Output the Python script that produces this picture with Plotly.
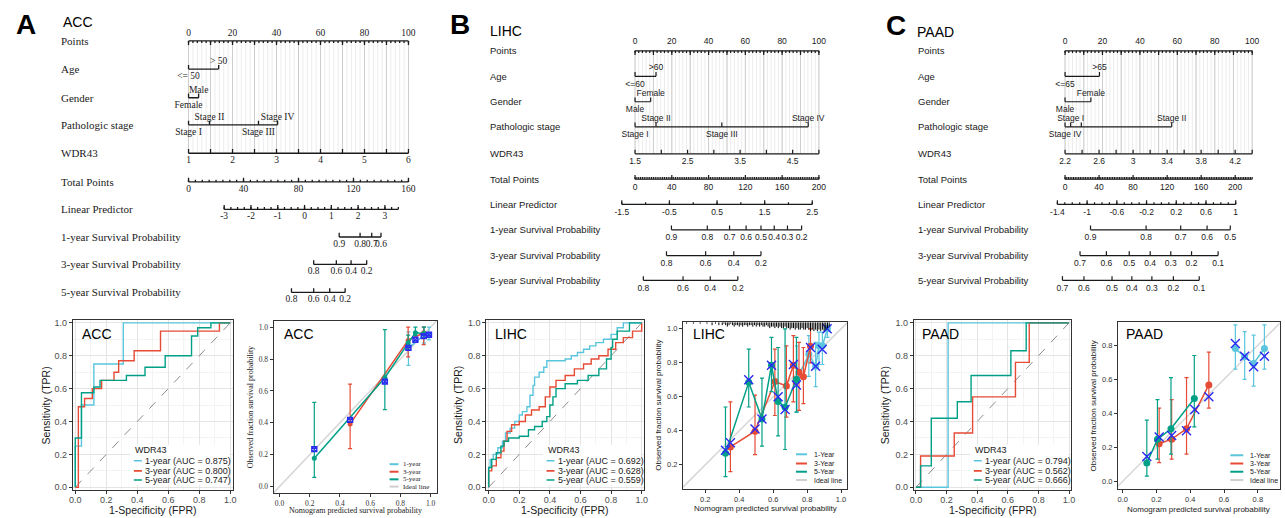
import plotly.graph_objects as go

W, H = 1285, 518
NOMO_H = 310
SERIF = "Liberation Serif, Times New Roman, serif"
SANS = "Liberation Sans, Arial, Helvetica, sans-serif"
C1, C3, C5 = "#5BC5DE", "#E64B35", "#00A087"
XBLUE = "#2A2AF2"
INK = "#1a1a1a"

# ------------------------------------------------------------------ data
row_names = ["Points", "Age", "Gender", "Pathologic stage", "WDR43", "Total Points",
             "Linear Predictor", "1-year Survival Probability",
             "3-year Survival Probability", "5-year Survival Probability"]
points_labels = [0, 20, 40, 60, 80, 100]

# ACC nomogram (scores on the 0-100 Points scale)
acc_age_lv = ["<= 50", "> 50"];   acc_age_pt = [0, 13.7]
acc_sex_lv = ["Female", "Male"];  acc_sex_pt = [0, 4.6]
acc_stage_lv = ["Stage I", "Stage II", "Stage III", "Stage IV"]; acc_stage_pt = [0, 9.5, 31.8, 40.5]
acc_stage_show = [True, True, True, True]
acc_wdr_range = [1, 6]; acc_wdr_step = 0.5; acc_wdr_lab = [1, 2, 3, 4, 5, 6]
acc_tot_max = 160; acc_tot_step = 5; acc_tot_lab = [0, 40, 80, 120, 160]
acc_lp_lab = [-3, -2, -1, 0, 1, 2, 3]; acc_lp_step = 0.25; acc_lp_end = 3.5; acc_lp_pt = [16.2, 89.3]
acc_s1_lab = [0.9, 0.8, 0.7, 0.6]; acc_s1_pt = [68.5, 78.0, 83.3, 87.5]
acc_s3_lab = [0.8, 0.6, 0.4, 0.2]; acc_s3_pt = [56.9, 67.2, 73.9, 81.0]
acc_s5_lab = [0.8, 0.6, 0.4, 0.2]; acc_s5_pt = [46.8, 56.9, 64.2, 71.2]

# LIHC nomogram
lihc_age_lv = ["<=60", ">60"];     lihc_age_pt = [0, 11.4]
lihc_sex_lv = ["Male", "Female"];  lihc_sex_pt = [0, 8.5]
lihc_stage_lv = ["Stage I", "Stage II", "Stage III", "Stage IV"]; lihc_stage_pt = [0, 11.4, 47.2, 94.2]
lihc_stage_show = [True, True, True, True]
lihc_wdr_range = [1.5, 5.0]; lihc_wdr_step = 0.5; lihc_wdr_lab = [1.5, 2.5, 3.5, 4.5]
lihc_tot_max = 200; lihc_tot_step = 2; lihc_tot_lab = [0, 40, 80, 120, 160, 200]
lihc_lp_lab = [-1.5, -0.5, 0.5, 1.5, 2.5]; lihc_lp_step = 0.5; lihc_lp_end = 2.5; lihc_lp_pt = [-7.2, 96.4]
lihc_s1_lab = [0.9, 0.8, 0.7, 0.6, 0.5, 0.4, 0.3, 0.2]; lihc_s1_pt = [19.8, 39.3, 51.4, 60.4, 68.5, 75.7, 82.9, 90.6]
lihc_s3_lab = [0.8, 0.6, 0.4, 0.2]; lihc_s3_pt = [17.1, 38.4, 53.7, 68.5]
lihc_s5_lab = [0.8, 0.6, 0.4, 0.2]; lihc_s5_pt = [4.5, 26.1, 40.9, 55.9]

# PAAD nomogram
paad_age_lv = ["<=65", ">65"];     paad_age_pt = [0, 18.4]
paad_sex_lv = ["Male", "Female"];  paad_sex_pt = [0, 13.8]
paad_stage_lv = ["Stage IV", "Stage I", "Stage III", "Stage II"]; paad_stage_pt = [0, 3.0, 8.7, 57.0]
paad_stage_show = [True, True, False, True]
paad_wdr_range = [2.2, 4.4]; paad_wdr_step = 0.2; paad_wdr_lab = [2.2, 2.6, 3, 3.4, 3.8, 4.2]
paad_tot_max = 220; paad_tot_step = 2; paad_tot_lab = [0, 40, 80, 120, 160, 200]
paad_lp_lab = [-1.4, -1, -0.6, -0.2, 0.2, 0.6, 1]; paad_lp_step = 0.1; paad_lp_end = 1.0; paad_lp_pt = [-4.1, 91.2]
paad_s1_lab = [0.9, 0.8, 0.7, 0.6, 0.5]; paad_s1_pt = [13.6, 43.3, 61.8, 75.9, 88.3]
paad_s3_lab = [0.7, 0.6, 0.5, 0.4, 0.3, 0.2, 0.1]; paad_s3_pt = [8.0, 22.1, 34.3, 45.5, 56.5, 67.6, 81.8]
paad_s5_lab = [0.7, 0.6, 0.5, 0.4, 0.3, 0.2, 0.1]; paad_s5_pt = [-1.4, 10.1, 25.1, 35.7, 46.4, 57.9, 71.7]

# ROC curves (step vertices: FPR where the jump happens, TPR after it)
acc_roc1_fpr = [0, 0, 0.04, 0.12, 0.31, 1]
acc_roc1_tpr = [0, 0.25, 0.50, 0.75, 1.0, 1.0]
acc_roc3_fpr = [0, 0.02, 0.06, 0.11, 0.17, 0.25, 0.28, 0.38, 0.55, 0.93, 1]
acc_roc3_tpr = [0, 0.49, 0.54, 0.60, 0.65, 0.70, 0.77, 0.83, 0.95, 1.0, 1.0]
acc_roc5_fpr = [0, 0, 0.04, 0.12, 0.16, 0.33, 0.45, 0.58, 0.75, 0.79, 0.875, 1]
acc_roc5_tpr = [0, 0.30, 0.575, 0.61, 0.65, 0.68, 0.73, 0.80, 0.92, 0.97, 1.0, 1.0]
acc_auc = [0.875, 0.800, 0.747]

lihc_roc1_fpr = [0, 0, 0.01, 0.03, 0.06, 0.09, 0.11, 0.14, 0.17, 0.20, 0.22, 0.25, 0.27, 0.29, 0.30,
                 0.33, 0.36, 0.38, 0.50, 0.54, 0.58, 0.62, 0.66, 0.70, 0.75, 0.80, 0.84, 0.88, 1]
lihc_roc1_tpr = [0, 0.12, 0.17, 0.20, 0.24, 0.28, 0.33, 0.36, 0.40, 0.44, 0.46, 0.49, 0.56, 0.62, 0.67,
                 0.70, 0.73, 0.77, 0.78, 0.80, 0.82, 0.84, 0.86, 0.88, 0.90, 0.93, 0.97, 1.0, 1.0]
lihc_roc3_fpr = [0, 0, 0.02, 0.05, 0.08, 0.10, 0.12, 0.15, 0.20, 0.24, 0.28, 0.33, 0.37, 0.40, 0.44,
                 0.50, 0.56, 0.62, 0.67, 0.72, 0.78, 0.83, 0.88, 0.94, 1.0, 1.0]
lihc_roc3_tpr = [0, 0.10, 0.13, 0.18, 0.22, 0.28, 0.34, 0.38, 0.40, 0.44, 0.47, 0.49, 0.55, 0.61, 0.65,
                 0.68, 0.72, 0.75, 0.78, 0.80, 0.84, 0.88, 0.91, 0.95, 0.98, 1.0]
lihc_roc5_fpr = [0, 0, 0.02, 0.05, 0.08, 0.10, 0.13, 0.20, 0.26, 0.30, 0.35, 0.38, 0.40, 0.42, 0.44,
                 0.50, 0.58, 0.65, 0.72, 0.77, 0.80, 0.81, 0.84, 0.92, 1]
lihc_roc5_tpr = [0, 0.12, 0.17, 0.21, 0.25, 0.28, 0.30, 0.31, 0.35, 0.37, 0.40, 0.43, 0.50, 0.55, 0.60,
                 0.63, 0.65, 0.68, 0.72, 0.78, 0.85, 0.90, 0.95, 1.0, 1.0]
lihc_auc = [0.692, 0.628, 0.559]

paad_roc1_fpr = [0, 0.21, 1]
paad_roc1_tpr = [0, 1.0, 1.0]
paad_roc3_fpr = [0, 0.03, 0.25, 0.37, 0.65, 0.74, 1]
paad_roc3_tpr = [0, 0.19, 0.33, 0.55, 0.76, 1.0, 1.0]
paad_roc5_fpr = [0, 0.03, 0.10, 0.27, 0.36, 0.62, 0.72, 1]
paad_roc5_tpr = [0, 0.13, 0.42, 0.52, 0.68, 0.83, 1.0, 1.0]
paad_auc = [0.794, 0.562, 0.666]

# Calibration: predicted, observed, lower, upper
acc_cal1 = dict(x=[0.853, 0.956, 0.989], y=[0.87, 0.948, 0.952], lo=[0.76, 0.90, 0.92], hi=[0.97, 1.0, 1.0])
acc_cal3 = dict(x=[0.467, 0.851, 0.954], y=[0.393, 0.917, 0.965], lo=[0.238, 0.814, 0.89], hi=[0.642, 1.0, 1.0])
acc_cal5 = dict(x=[0.23, 0.697, 0.851, 0.899, 0.956], y=[0.178, 0.683, 0.90, 0.965, 0.96],
                lo=[0.058, 0.482, 0.86, 0.948, 0.93], hi=[0.528, 0.985, 0.95, 1.0, 1.0])
acc_calx_x = [0.23, 0.467, 0.697, 0.853, 0.899, 0.954, 0.989]
acc_calx_y = [0.235, 0.418, 0.658, 0.87, 0.921, 0.944, 0.952]

lihc_cal1 = dict(x=[0.74, 0.81, 0.85, 0.87, 0.89, 0.92], y=[0.70, 0.85, 0.78, 0.90, 0.90, 1.0],
                 lo=[0.51, 0.72, 0.66, 0.79, 0.79, 0.95], hi=[0.90, 0.96, 0.92, 0.98, 0.98, 1.02])
lihc_cal3 = dict(x=[0.348, 0.493, 0.61, 0.678, 0.719, 0.752, 0.778, 0.82],
                 y=[0.305, 0.398, 0.69, 0.664, 0.786, 0.744, 0.718, 0.897],
                 lo=[0.16, 0.26, 0.49, 0.48, 0.57, 0.52, 0.56, 0.80],
                 hi=[0.57, 0.61, 0.88, 0.90, 0.96, 0.92, 0.89, 1.0])
lihc_cal5 = dict(x=[0.319, 0.456, 0.534, 0.59, 0.629, 0.67, 0.737],
                 y=[0.268, 0.685, 0.47, 0.786, 0.573, 0.538, 0.703],
                 lo=[0.13, 0.54, 0.31, 0.63, 0.37, 0.29, 0.51],
                 hi=[0.54, 0.88, 0.71, 0.95, 0.89, 1.0, 0.95])
lihc_calx_x = [0.319, 0.348, 0.456, 0.493, 0.534, 0.59, 0.629, 0.67, 0.719, 0.737, 0.82, 0.85, 0.889, 0.918]
lihc_calx_y = [0.285, 0.33, 0.70, 0.41, 0.47, 0.786, 0.60, 0.525, 0.79, 0.67, 0.89, 0.78, 0.88, 1.0]
lihc_rug_x = [0.09, 0.13, 0.17, 0.21, 0.24, 0.26, 0.28, 0.30, 0.31, 0.32, 0.33, 0.34, 0.35, 0.36, 0.37,
              0.38, 0.39, 0.40, 0.41, 0.42, 0.43, 0.44, 0.45, 0.46, 0.47, 0.48, 0.49, 0.50, 0.51, 0.52,
              0.53, 0.54, 0.55, 0.56, 0.57, 0.58, 0.59, 0.60, 0.61, 0.62, 0.63, 0.64, 0.65, 0.66, 0.67,
              0.68, 0.69, 0.70, 0.71, 0.72, 0.73, 0.74, 0.75, 0.76, 0.77, 0.78, 0.79, 0.80, 0.81, 0.82,
              0.83, 0.84, 0.85, 0.86, 0.87, 0.88, 0.89, 0.90, 0.91, 0.92, 0.93]
lihc_rug_n = [1, 1, 1, 1, 2, 1, 2, 2, 1, 2, 3, 2, 1, 2, 3,
              2, 2, 3, 2, 3, 2, 2, 3, 2, 2, 3, 2, 3, 2, 3,
              2, 3, 3, 2, 3, 4, 3, 3, 4, 3, 4, 3, 4, 4, 3,
              4, 4, 5, 4, 4, 5, 4, 5, 5, 4, 5, 5, 4, 5, 6,
              5, 6, 5, 6, 5, 6, 5, 6, 5, 4, 3]

paad_cal1 = dict(x=[0.667, 0.722, 0.775, 0.839], y=[0.781, 0.732, 0.693, 0.781],
                 lo=[0.66, 0.60, 0.56, 0.66], hi=[0.92, 0.88, 0.86, 0.92])
paad_cal3 = dict(x=[0.216, 0.29, 0.378, 0.51], y=[0.221, 0.248, 0.309, 0.567],
                 lo=[0.11, 0.13, 0.16, 0.43], hi=[0.43, 0.48, 0.61, 0.76])
paad_cal5 = dict(x=[0.143, 0.206, 0.286, 0.424], y=[0.107, 0.247, 0.309, 0.487],
                 lo=[0.03, 0.13, 0.16, 0.32], hi=[0.36, 0.48, 0.61, 0.74])
paad_calx_x = [0.143, 0.216, 0.29, 0.378, 0.427, 0.51, 0.667, 0.722, 0.775, 0.839]
paad_calx_y = [0.146, 0.26, 0.27, 0.297, 0.423, 0.497, 0.81, 0.735, 0.674, 0.736]

roc_ticks = [0, 0.2, 0.4, 0.6, 0.8, 1.0]
year_names = ["1-year", "3-year", "5-year"]

# ------------------------------------------------------------------ helpers
fig = go.Figure()
lay = {}
annotations = []
shapes = []


def ppx(x):
    return x / W


def ppy(y):
    return 1 - y / H


def note(x, y, text, font, xanchor="center", yanchor="middle", xref="paper", yref="paper", angle=0):
    annotations.append(dict(x=x, y=y, xref=xref, yref=yref, text=text, showarrow=False,
                            xanchor=xanchor, yanchor=yanchor, textangle=angle, font=font))


def axname(prefix, k):
    return prefix if k == 1 else f"{prefix}{k}"


def build_nomogram(k, L, R, p0, s, rows_y, label_x, font, fs_row, fs_tick, lab_off, pts_off, lw,
                   age, sex, stage, wdr, tot, lp, s1, s3, s5):
    xa, ya = axname("x", k), axname("y", k)
    lay[axname("xaxis", k)] = dict(domain=[L / W, R / W], range=[(L - p0) / s, (R - p0) / s],
                                   visible=False, anchor=ya, fixedrange=True)
    lay[axname("yaxis", k)] = dict(domain=[1 - NOMO_H / H, 1], range=[NOMO_H, 0],
                                   visible=False, anchor=xa, fixedrange=True)
    # grid
    gminx, gminy, gmajx, gmajy = [], [], [], []
    for v in range(0, 101, 2):
        gminx += [v, v, None]; gminy += [rows_y[0], rows_y[4], None]
    for v in range(0, 101, 10):
        gmajx += [v, v, None]; gmajy += [rows_y[0], rows_y[4], None]
    fig.add_trace(go.Scatter(x=gminx, y=gminy, mode="lines", line=dict(color="#ececec", width=1),
                             xaxis=xa, yaxis=ya, hoverinfo="skip"))
    fig.add_trace(go.Scatter(x=gmajx, y=gmajy, mode="lines", line=dict(color="#cdcdcd", width=1),
                             xaxis=xa, yaxis=ya, hoverinfo="skip"))
    xs, ys, tx, ty, tt = [], [], [], [], []

    def axis_row(y, minor, major, direction):
        allp = list(minor) + list(major)
        xs.extend([min(allp), max(allp), None]); ys.extend([y, y, None])
        for t in minor:
            xs.extend([t, t, None]); ys.extend([y, y + direction * 2.2, None])
        for t in major:
            xs.extend([t, t, None]); ys.extend([y, y + direction * 4.2, None])

    def label(p, y, txt):
        tx.append(p); ty.append(y); tt.append(txt)

    # Points
    y = rows_y[0]
    axis_row(y, [v for v in range(0, 101, 2)], [v for v in range(0, 101, 10)], 1)
    for v in points_labels:
        label(v, y - pts_off, f"{v}")

    # categorical rows
    for (lv, pt, show), y in zip([age, sex, stage], rows_y[1:4]):
        axis_row(y, [], pt, -1)
        order = sorted(range(len(pt)), key=lambda j: pt[j])
        for n, j in enumerate(order):
            if show[j]:
                label(pt[j], y + (lab_off if n % 2 == 0 else -lab_off), lv[j])

    # WDR43
    (w0, w1), wstep, wlab = wdr
    n = int(round((w1 - w0) / wstep))
    wv = [w0 + i * wstep for i in range(n + 1)]
    f = lambda v: (v - w0) / (w1 - w0) * 100
    y = rows_y[4]
    axis_row(y, [], [f(v) for v in wv], -1)
    for v in wlab:
        label(f(v), y + lab_off, f"{v:g}")

    # Total points
    tmax, tstep, tlab = tot
    g = lambda v: v / tmax * 100
    y = rows_y[5]
    axis_row(y, [g(v) for v in range(0, tmax + 1, tstep)], [g(v) for v in tlab], -1)
    for v in tlab:
        label(g(v), y + lab_off, f"{v:g}")

    # Linear predictor
    llab, lstep, lend, lpt = lp
    h = lambda v: lpt[0] + (v - llab[0]) / (llab[-1] - llab[0]) * (lpt[1] - lpt[0])
    n = int(round((lend - llab[0]) / lstep))
    lv_all = [llab[0] + i * lstep for i in range(n + 1)]
    y = rows_y[6]
    axis_row(y, [h(v) for v in lv_all], [h(v) for v in llab], -1)
    for v in llab:
        label(h(v), y + lab_off, f"{v:g}")

    # survival probabilities
    for (slab, spt), y in zip([s1, s3, s5], rows_y[7:10]):
        axis_row(y, [], spt, -1)
        for v, p in zip(slab, spt):
            label(p, y + lab_off, f"{v:g}")

    fig.add_trace(go.Scatter(x=xs, y=ys, mode="lines", line=dict(color=INK, width=lw),
                             xaxis=xa, yaxis=ya, hoverinfo="skip"))
    fig.add_trace(go.Scatter(x=tx, y=ty, text=tt, mode="text", textposition="middle center",
                             textfont=dict(family=font, size=fs_tick, color=INK),
                             xaxis=xa, yaxis=ya, hoverinfo="skip", cliponaxis=False))
    for name, y in zip(row_names, rows_y):
        note(ppx(label_x), ppy(y), name, dict(family=font, size=fs_row, color=INK), xanchor="left")


def roc_panel(k, x0, x1, ytop, ybot, title, curves, aucs, ytitle_x):
    e = 0.015
    wpx, hpx = x1 - x0, ybot - ytop
    xa, ya = f"x{k}", f"y{k}"
    common = dict(tickvals=roc_ticks, ticktext=[f"{v:.1f}" for v in roc_ticks], ticks="outside",
                  ticklen=3, tickwidth=1, tickcolor="#333333", showline=True, mirror=True,
                  linecolor="#333333", linewidth=1, showgrid=True, gridcolor="#e4e4e4", gridwidth=1,
                  minor=dict(tickvals=[0.1, 0.3, 0.5, 0.7, 0.9], showgrid=True, gridcolor="#f3f3f3",
                             gridwidth=0.6, ticks=""),
                  zeroline=False, range=[-e, 1 + e], fixedrange=True,
                  tickfont=dict(family=SANS, size=9, color="#4d4d4d"))
    lay[f"xaxis{k}"] = dict(common, domain=[(x0 - e * wpx) / W, (x1 + e * wpx) / W], anchor=ya,
                            ticklabelstandoff=-2)
    lay[f"yaxis{k}"] = dict(common, domain=[1 - (ybot + e * hpx) / H, 1 - (ytop - e * hpx) / H], anchor=xa)
    fig.add_trace(go.Scatter(x=[0, 1], y=[0, 1], mode="lines",
                             line=dict(color="#8c8c8c", width=1, dash="dash"),
                             xaxis=xa, yaxis=ya, hoverinfo="skip"))
    for (fpr, tpr), col in zip(curves, [C1, C3, C5]):
        fig.add_trace(go.Scatter(x=fpr, y=tpr, mode="lines", line=dict(color=col, width=1.4, shape="hv"),
                                 xaxis=xa, yaxis=ya, hoverinfo="skip"))
    # legend (inside, bottom-right)
    shapes.append(dict(type="rect", xref=xa, yref=ya, x0=0.355, x1=0.995, y0=0.012, y1=0.258,
                       fillcolor="white", line=dict(width=0), layer="above"))
    lf = dict(family=SANS, size=9, color=INK)
    note(0.372, 0.225, "WDR43", lf, xanchor="left", xref=xa, yref=ya)
    for j, (nm, a, col) in enumerate(zip(year_names, aucs, [C1, C3, C5])):
        yy = [0.161, 0.100, 0.044][j]
        shapes.append(dict(type="line", xref=xa, yref=ya, x0=0.378, x1=0.43, y0=yy, y1=yy,
                           line=dict(color=col, width=1.6), layer="above"))
        note(0.44, yy, f"{nm} (AUC = {a:.3f})", lf, xanchor="left", xref=xa, yref=ya)
    note(ppx(x0 + 4.5), ppy(335), title, dict(family=SANS, size=14, color="black"), xanchor="left")
    note(ppx(ytitle_x), ppy((ytop + ybot) / 2), "Sensitivity (TPR)",
         dict(family=SANS, size=10.5, color=INK), angle=-90)
    note(ppx((x0 + x1) / 2), ppy(512.5), "1-Specificity (FPR)", dict(family=SANS, size=10.5, color=INK))


def cal_panel(k, xr, yr, left, right, top, bottom, xt, yt, font, title, title_x, series, xm,
              msize, xsym, xsize, ytitle_x, xtitle_y, leg_names, leg_px, leg_py, leg_font):
    xa, ya = f"x{k}", f"y{k}"
    common = dict(ticks="outside", ticklen=3, tickwidth=1, tickcolor="#333333", showline=True,
                  mirror=True, linecolor="#333333", linewidth=1, showgrid=False, zeroline=False,
                  fixedrange=True, tickfont=dict(family=font, size=7.5, color="#333333"))
    lay[f"xaxis{k}"] = dict(common, domain=[left / W, right / W], range=xr, anchor=ya,
                            tickvals=xt, ticktext=[f"{v:.1f}" for v in xt])
    lay[f"yaxis{k}"] = dict(common, domain=[1 - bottom / H, 1 - top / H], range=yr, anchor=xa,
                            tickvals=yt, ticktext=[f"{v:.1f}" for v in yt])
    lo, hi = min(xr[0], yr[0]), max(xr[1], yr[1])
    fig.add_trace(go.Scatter(x=[lo, hi], y=[lo, hi], mode="lines", line=dict(color="#d6d6d6", width=1.5),
                             xaxis=xa, yaxis=ya, hoverinfo="skip"))
    for d, col in zip(series, [C1, C3, C5]):
        fig.add_trace(go.Scatter(
            x=d["x"], y=d["y"], mode="lines+markers", line=dict(color=col, width=1.5),
            marker=dict(color=col, size=msize),
            error_y=dict(type="data", symmetric=False,
                         array=[h_ - v for h_, v in zip(d["hi"], d["y"])],
                         arrayminus=[v - l_ for l_, v in zip(d["lo"], d["y"])],
                         color=col, thickness=1.2, width=2),
            xaxis=xa, yaxis=ya, hoverinfo="skip"))
    fig.add_trace(go.Scatter(x=xm[0], y=xm[1], mode="markers",
                             marker=dict(symbol=xsym, size=xsize, color=XBLUE,
                                         line=dict(color=XBLUE, width=1.4)),
                             xaxis=xa, yaxis=ya, hoverinfo="skip"))
    note(ppx(title_x), ppy(335), title, dict(family=SANS, size=14, color="black"), xanchor="left")
    note(ppx(ytitle_x), ppy((top + bottom) / 2), "Observed fraction survival probability",
         dict(family=font, size=8, color=INK), angle=-90)
    note(ppx((left + right) / 2), ppy(xtitle_y), "Nomogram predicted survival probability",
         dict(family=font, size=8, color=INK))
    for nm, col, yy in zip(leg_names, [C1, C3, C5, "#cfcfcf"], leg_py):
        shapes.append(dict(type="line", xref="paper", yref="paper", x0=ppx(leg_px[0]), x1=ppx(leg_px[1]),
                           y0=ppy(yy), y1=ppy(yy), line=dict(color=col, width=2)))
        note(ppx(leg_px[2]), ppy(yy), nm, dict(family=font, size=leg_font, color=INK), xanchor="left")


# ------------------------------------------------------------------ nomograms
rows_A = [39.3, 67.7, 96.7, 124.0, 152.7, 181.7, 209.3, 237.3, 265.0, 293.3]
rows_BC = [49.3, 75.0, 100.7, 126.0, 153.3, 179.0, 204.3, 230.0, 256.0, 281.0]

build_nomogram(1, 0, 432, 185.7, 2.213, rows_A, 55, SERIF, 11, 9.5, 7.6, 7.5, 1.3,
               (acc_age_lv, acc_age_pt, [True, True]), (acc_sex_lv, acc_sex_pt, [True, True]),
               (acc_stage_lv, acc_stage_pt, acc_stage_show),
               (acc_wdr_range, acc_wdr_step, acc_wdr_lab), (acc_tot_max, acc_tot_step, acc_tot_lab),
               (acc_lp_lab, acc_lp_step, acc_lp_end, acc_lp_pt),
               (acc_s1_lab, acc_s1_pt), (acc_s3_lab, acc_s3_pt), (acc_s5_lab, acc_s5_pt))
build_nomogram(2, 436, 872, 635.0, 1.85, rows_BC, 487, SANS, 9.5, 8.5, 8.2, 9.0, 1.2,
               (lihc_age_lv, lihc_age_pt, [True, True]), (lihc_sex_lv, lihc_sex_pt, [True, True]),
               (lihc_stage_lv, lihc_stage_pt, lihc_stage_show),
               (lihc_wdr_range, lihc_wdr_step, lihc_wdr_lab), (lihc_tot_max, lihc_tot_step, lihc_tot_lab),
               (lihc_lp_lab, lihc_lp_step, lihc_lp_end, lihc_lp_pt),
               (lihc_s1_lab, lihc_s1_pt), (lihc_s3_lab, lihc_s3_pt), (lihc_s5_lab, lihc_s5_pt))
build_nomogram(3, 876, 1285, 1067.7, 1.883, rows_BC, 918, SANS, 9.5, 8.5, 8.2, 9.0, 1.2,
               (paad_age_lv, paad_age_pt, [True, True]), (paad_sex_lv, paad_sex_pt, [True, True]),
               (paad_stage_lv, paad_stage_pt, paad_stage_show),
               (paad_wdr_range, paad_wdr_step, paad_wdr_lab), (paad_tot_max, paad_tot_step, paad_tot_lab),
               (paad_lp_lab, paad_lp_step, paad_lp_end, paad_lp_pt),
               (paad_s1_lab, paad_s1_pt), (paad_s3_lab, paad_s3_pt), (paad_s5_lab, paad_s5_pt))

for letter, lx, ly, ttl, tx_, ty_ in [("A", 10, 23, "ACC", 57, 20), ("B", 447, 23, "LIHC", 487, 29),
                                      ("C", 886, 24, "PAAD", 917, 30)]:
    note(ppx(lx), ppy(ly), f"<b>{letter}</b>", dict(family=SANS, size=28, color="black"), xanchor="left")
    note(ppx(tx_), ppy(ty_), ttl, dict(family=SANS, size=14, color="black"), xanchor="left")

# ------------------------------------------------------------------ ROC panels
roc_panel(4, 71.7, 227.7, 324, 490, "ACC",
          [(acc_roc1_fpr, acc_roc1_tpr), (acc_roc3_fpr, acc_roc3_tpr), (acc_roc5_fpr, acc_roc5_tpr)],
          acc_auc, 42.7)
roc_panel(5, 487.7, 641.7, 324, 490, "LIHC",
          [(lihc_roc1_fpr, lihc_roc1_tpr), (lihc_roc3_fpr, lihc_roc3_tpr), (lihc_roc5_fpr, lihc_roc5_tpr)],
          lihc_auc, 456.7)
roc_panel(6, 917.7, 1071.7, 324, 490, "PAAD",
          [(paad_roc1_fpr, paad_roc1_tpr), (paad_roc3_fpr, paad_roc3_tpr), (paad_roc5_fpr, paad_roc5_tpr)],
          paad_auc, 886.7)

# ------------------------------------------------------------------ calibration panels
cal_panel(7, [-0.04, 1.04], [-0.04, 1.04], 271.2, 435.4, 321.9, 495.7,
          [0, 0.2, 0.4, 0.6, 0.8, 1.0], [0, 0.2, 0.4, 0.6, 0.8, 1.0], SERIF, "ACC", 280,
          [acc_cal1, acc_cal3, acc_cal5], (acc_calx_x, acc_calx_y), 5, "square-x-open", 5,
          248, 513.3, ["1-year", "3-year", "5-year", "Ideal line"], (388, 397, 399),
          [466.7, 474.3, 482.0, 489.3], 7)
cal_panel(8, [0.069, 1.035], [0.058, 1.039], 683.3, 848.3, 323.3, 491.7,
          [0.2, 0.4, 0.6, 0.8, 1.0], [0.2, 0.4, 0.6, 0.8, 1.0], SANS, "LIHC", 691.7,
          [lihc_cal1, lihc_cal3, lihc_cal5], (lihc_calx_x, lihc_calx_y), 7, "x-thin", 9,
          658.3, 511.7, ["1-Year", "3-Year", "5-Year", "Ideal line"], (797, 808, 813),
          [456.7, 466.0, 474.3, 482.7], 7)
cal_panel(9, [-0.028, 0.93], [-0.045, 0.936], 1120.9, 1283.8, 323.3, 491.7,
          [0, 0.2, 0.4, 0.6, 0.8], [0, 0.2, 0.4, 0.6, 0.8], SANS, "PAAD", 1126.7,
          [paad_cal1, paad_cal3, paad_cal5], (paad_calx_x, paad_calx_y), 7, "x-thin", 9,
          1096.7, 512.7, ["1-Year", "3-Year", "5-Year", "Ideal line"], (1234, 1247, 1252),
          [457.7, 466.0, 474.3, 482.7], 7)

# LIHC spike histogram of predictions along the top
rx, ry = [], []
for v, n in zip(lihc_rug_x, lihc_rug_n):
    rx += [v, v, None]
    ry += [1.039, 1.039 - n * 1.5 / 171.6, None]
fig.add_trace(go.Scatter(x=rx, y=ry, mode="lines", line=dict(color="black", width=1),
                         xaxis="x8", yaxis="y8", hoverinfo="skip"))

fig.update_layout(width=W, height=H, margin=dict(l=0, r=0, t=0, b=0), paper_bgcolor="white",
                  plot_bgcolor="rgba(0,0,0,0)", showlegend=False, annotations=annotations,
                  shapes=shapes, **lay)
fig.write_html("out.html", config={"displayModeBar": False},
               post_script="document.body.style.margin='0';document.body.style.overflow='hidden';")
